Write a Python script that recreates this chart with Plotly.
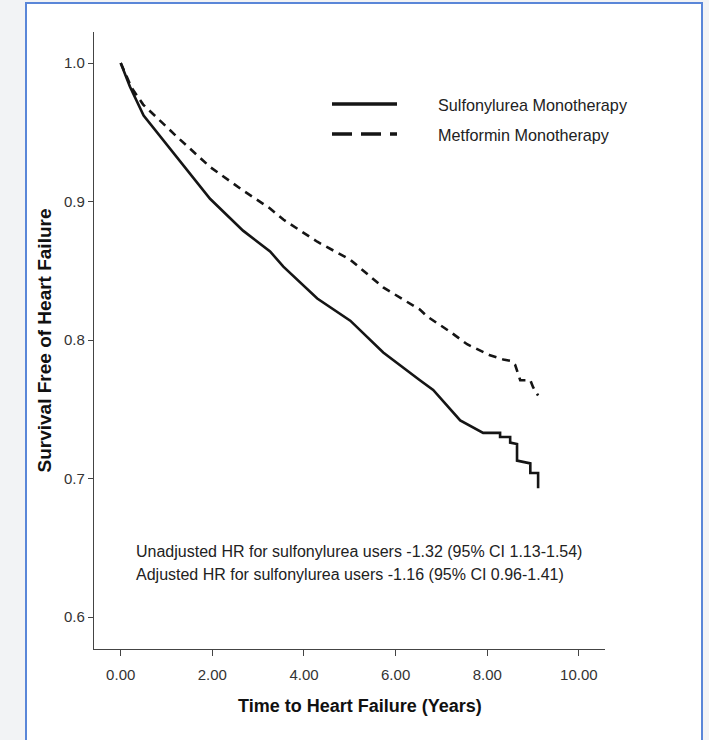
import plotly.graph_objects as go

# Sulfonylurea monotherapy (solid)
su_years = [0.00, 0.10, 0.20, 0.50, 0.86, 1.22, 1.60, 1.95, 2.67, 3.26, 3.55, 4.29, 5.01,
            5.73, 6.53, 6.82, 7.41, 7.91, 8.28, 8.28, 8.50, 8.50, 8.65, 8.65, 8.94, 8.94, 9.11, 9.11]
su_surv = [1.000, 0.991, 0.983, 0.962, 0.947, 0.932, 0.916, 0.902, 0.879, 0.864, 0.853, 0.830, 0.814,
           0.791, 0.771, 0.764, 0.742, 0.733, 0.733, 0.730, 0.730, 0.726, 0.725, 0.713, 0.711, 0.704,
           0.704, 0.693]

# Metformin monotherapy (dashed)
met_years = [0.00, 0.10, 0.24, 0.49, 0.86, 1.22, 1.95, 2.67, 3.26, 3.55, 4.29, 5.01, 5.73, 6.53,
             6.69, 7.19, 7.56, 8.06, 8.35, 8.50, 8.61, 8.72, 8.94, 9.00, 9.11]
met_surv = [1.000, 0.993, 0.982, 0.970, 0.958, 0.947, 0.925, 0.908, 0.895, 0.887, 0.871, 0.858, 0.838,
            0.822, 0.817, 0.806, 0.797, 0.789, 0.786, 0.785, 0.782, 0.771, 0.771, 0.766, 0.760]

series_names = ["Sulfonylurea Monotherapy", "Metformin Monotherapy"]
x_ticks = [0, 2, 4, 6, 8, 10]
x_tick_labels = ["0.00", "2.00", "4.00", "6.00", "8.00", "10.00"]
y_ticks = [0.6, 0.7, 0.8, 0.9, 1.0]
y_tick_labels = ["0.6", "0.7", "0.8", "0.9", "1.0"]
hr_lines = ["Unadjusted HR for sulfonylurea users -1.32 (95% CI 1.13-1.54)",
            "Adjusted HR for sulfonylurea users -1.16 (95% CI 0.96-1.41)"]

FONT = "Arial, Liberation Sans, Helvetica, sans-serif"
INK = "#151515"
DASH = "8px,6px"

fig = go.Figure()
fig.add_trace(go.Scatter(x=su_years, y=su_surv, mode="lines", name=series_names[0],
                         line=dict(color=INK, width=2.6)))
fig.add_trace(go.Scatter(x=met_years, y=met_surv, mode="lines", name=series_names[1],
                         line=dict(color=INK, width=2.6, dash=DASH)))

L, R, T, B = 94, 104, 32, 91
W, H = 709, 740
pw, ph = W - L - R, H - T - B

def px(x):
    return (x - L) / pw

def py(y):
    return 1 - (y - T) / ph

# page frame (white card with blue border)
fig.add_shape(type="rect", xref="paper", yref="paper",
              x0=px(26), x1=px(702), y0=py(760), y1=py(3),
              fillcolor="white", line=dict(color="#5a86d8", width=2), layer="below")

# legend (drawn by hand to match the long sample lines and wide gap)
legend_rows = [(104, None), (134, "20px,9px")]
for (yy, dash), name in zip(legend_rows, series_names):
    fig.add_shape(type="line", xref="paper", yref="paper",
                  x0=px(332), x1=px(397), y0=py(yy), y1=py(yy),
                  line=dict(color=INK, width=3.5, dash=dash) if dash else dict(color=INK, width=3.5))
    fig.add_annotation(text=name, xref="paper", yref="paper", x=px(436), y=py(yy + 1),
                       xanchor="left", yanchor="middle", showarrow=False,
                       font=dict(family=FONT, size=16.2, color="#222"))

for i, t in enumerate(hr_lines):
    fig.add_annotation(text=t, xref="paper", yref="paper", x=px(134), y=py(551 + 23 * i),
                       xanchor="left", yanchor="middle", showarrow=False,
                       font=dict(family=FONT, size=16, color="#222"))

# x-axis title placed to match the reference (slightly right of the plot centre)
fig.add_annotation(text="<b>Time to Heart Failure (Years)</b>", xref="paper", yref="paper",
                   x=px(360), y=py(706), xanchor="center", yanchor="middle", showarrow=False,
                   font=dict(family=FONT, size=18, color="#111"))

fig.update_layout(
    width=W, height=H,
    margin=dict(l=L, r=R, t=T, b=B),
    paper_bgcolor="#f2f3f5",
    plot_bgcolor="rgba(0,0,0,0)",
    font=dict(family=FONT, color="#333"),
    showlegend=False,
    xaxis=dict(range=[-0.583, 10.57], tickvals=x_ticks, ticktext=x_tick_labels,
               showgrid=False, zeroline=False, showline=True, linecolor="#444", linewidth=1.3,
               ticks="outside", ticklen=6, tickcolor="#444", tickwidth=1.3,
               tickfont=dict(family=FONT, size=15, color="#333"), ticklabelstandoff=6),
    yaxis=dict(range=[0.577, 1.0224], tickvals=y_ticks, ticktext=y_tick_labels,
               showgrid=False, zeroline=False, showline=True, linecolor="#444", linewidth=1.3,
               ticks="outside", ticklen=5, tickcolor="#444", tickwidth=1.3,
               tickfont=dict(family=FONT, size=15, color="#333"),
               title=dict(text="<b>Survival Free of Heart Failure</b>", standoff=7,
                          font=dict(family=FONT, size=19, color="#111"))),
)

fig.write_html("out.html")
